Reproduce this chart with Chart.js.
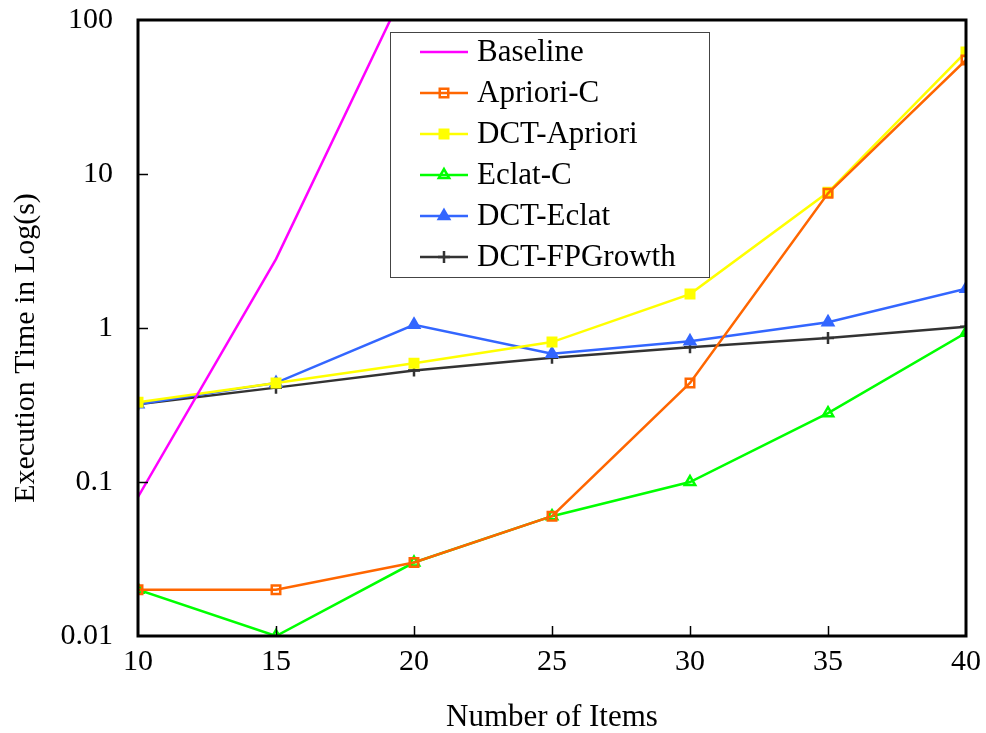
<!DOCTYPE html>
<html>
<head>
<meta charset="utf-8">
<script src="https://cdn.jsdelivr.net/npm/chart.js@4"></script>
<style>
  html, body { margin: 0; padding: 0; background: #fff; }
  #wrap { width: 986px; height: 733px; }
</style>
</head>
<body>
<div id="wrap"><canvas id="exec-time"></canvas></div>
<script>
const items = [10, 15, 20, 25, 30, 35, 40];
const yTicks = [0.01, 0.1, 1, 10, 100];

const baseline = [0.08, 2.8, 210, null, null, null, null];
const aprioriC = [0.02, 0.02, 0.03, 0.06, 0.44, 7.5, 55];
const dctApriori = [0.33, 0.44, 0.59, 0.81, 1.66, 7.6, 62];
const eclatC = [0.02, 0.01, 0.03, 0.06, 0.1, 0.28, 0.93];
const dctEclat = [0.32, 0.44, 1.05, 0.68, 0.82, 1.09, 1.8];
const dctFPGrowth = [0.32, 0.41, 0.53, 0.64, 0.75, 0.86, 1.02];

const FONT = '"Liberation Serif", "Times New Roman", serif';

function series(label, values, color, style, filled) {
  return {
    label: label,
    data: items.map((x, i) => ({ x: x, y: values[i] })),
    borderColor: color,
    backgroundColor: filled ? color : '#ffffff',
    borderWidth: 2.5,
    pointStyle: style,
    pointRadius: style ? 6 : 0,
    pointBorderWidth: 2.5,
    pointBorderColor: color,
    pointBackgroundColor: filled ? color : 'rgba(0,0,0,0)',
    tension: 0,
    spanGaps: false,
  };
}

// inside ticks, plot frame, y title and the boxed legend
const framePlugin = {
  id: 'frame',
  afterDatasetsDraw(chart) {
    const ctx = chart.ctx;
    const a = chart.chartArea;
    const xs = chart.scales.x;
    const ys = chart.scales.y;
    ctx.save();
    ctx.strokeStyle = '#000';
    ctx.lineWidth = 1.5;
    [15, 20, 25, 30, 35].forEach((v) => {
      const px = Math.round(xs.getPixelForValue(v)) + 0.5;
      ctx.beginPath();
      ctx.moveTo(px, a.bottom);
      ctx.lineTo(px, a.bottom - 10);
      ctx.stroke();
    });
    [0.1, 1, 10].forEach((v) => {
      const py = Math.round(ys.getPixelForValue(v)) + 0.5;
      ctx.beginPath();
      ctx.moveTo(a.left, py);
      ctx.lineTo(a.left + 10, py);
      ctx.stroke();
    });
    ctx.lineWidth = 3;
    ctx.strokeRect(a.left, a.top, a.right - a.left, a.bottom - a.top);

    // y axis title
    ctx.save();
    ctx.translate(26, 348);
    ctx.rotate(-Math.PI / 2);
    ctx.fillStyle = '#000';
    ctx.font = '30px ' + FONT;
    ctx.textAlign = 'center';
    ctx.textBaseline = 'middle';
    ctx.fillText('Execution Time in Log(s)', 0, 0);
    ctx.restore();

    // legend
    const lx = 390, ly = 32, lw = 319, lh = 245;
    ctx.fillStyle = '#fff';
    ctx.fillRect(lx, ly, lw, lh);
    ctx.lineWidth = 1;
    ctx.strokeStyle = '#444';
    ctx.strokeRect(lx + 0.5, ly + 0.5, lw, lh);
    ctx.font = '31px ' + FONT;
    ctx.textBaseline = 'middle';
    chart.data.datasets.forEach((ds, i) => {
      const cy = ly + 20 + i * 41;
      ctx.strokeStyle = ds.borderColor;
      ctx.lineWidth = 2.5;
      ctx.beginPath();
      ctx.moveTo(420, cy);
      ctx.lineTo(468, cy);
      ctx.stroke();
      if (ds.pointStyle) {
        ctx.fillStyle = ds.pointBackgroundColor;
        ctx.lineWidth = 2.5;
        Chart.helpers.drawPoint(ctx, { pointStyle: ds.pointStyle, radius: 6, borderWidth: 2.5 }, 444, cy);
      }
      ctx.fillStyle = '#000';
      ctx.fillText(ds.label, 477, cy + 1);
    });
    ctx.restore();
  },
};

new Chart(document.getElementById('exec-time'), {
  type: 'line',
  data: {
    datasets: [
      series('Baseline', baseline, '#ff00ff', false, false),
      series('Apriori-C', aprioriC, '#ff6600', 'rect', false),
      series('DCT-Apriori', dctApriori, '#ffff00', 'rect', true),
      series('Eclat-C', eclatC, '#00ff00', 'triangle', false),
      series('DCT-Eclat', dctEclat, '#3366ff', 'triangle', true),
      series('DCT-FPGrowth', dctFPGrowth, '#333333', 'cross', false),
    ],
  },
  options: {
    responsive: true,
    maintainAspectRatio: false,
    animation: false,
    layout: { padding: { top: 20, right: 20, left: 0, bottom: 0 } },
    plugins: {
      legend: { display: false },
      tooltip: { enabled: false },
    },
    scales: {
      x: {
        type: 'linear',
        min: 10,
        max: 40,
        afterBuildTicks: (scale) => { scale.ticks = items.map((v) => ({ value: v })); },
        afterFit: (scale) => {
          scale.height = 97;
          scale.paddingLeft = 0;
          scale.paddingRight = 0;
        },
        grid: { display: false, drawTicks: false },
        border: { display: false },
        ticks: { color: '#000', font: { family: FONT, size: 30 }, padding: 8, maxRotation: 0 },
        title: {
          display: true,
          text: 'Number of Items',
          color: '#000',
          font: { family: FONT, size: 31, lineHeight: 1.0 },
          padding: { top: 0, bottom: 0 },
        },
      },
      y: {
        type: 'logarithmic',
        min: 0.01,
        max: 100,
        afterBuildTicks: (scale) => { scale.ticks = yTicks.map((v) => ({ value: v })); },
        afterFit: (scale) => {
          scale.width = 138;
          scale.paddingTop = 0;
          scale.paddingBottom = 0;
        },
        grid: { display: false, drawTicks: false },
        border: { display: false },
        ticks: {
          color: '#000',
          font: { family: FONT, size: 30 },
          padding: 25,
          callback: (v) => String(v),
        },
      },
    },
  },
  plugins: [framePlugin],
});
</script>
</body>
</html>
